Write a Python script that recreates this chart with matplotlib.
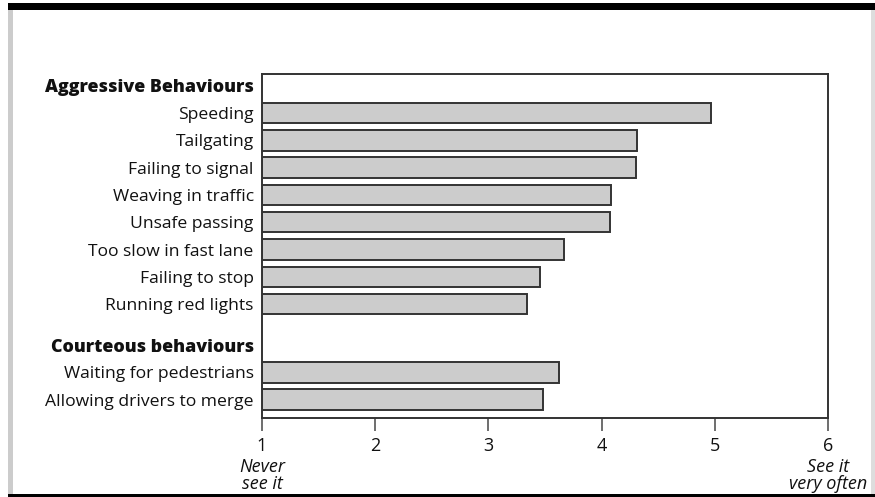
import matplotlib
matplotlib.use("Agg")
import matplotlib.pyplot as plt
from matplotlib.patches import Rectangle

plt.rcParams['font.family'] = ['Open Sans', 'DejaVu Sans']

aggressive_labels = ["Speeding", "Tailgating", "Failing to signal", "Weaving in traffic",
                     "Unsafe passing", "Too slow in fast lane", "Failing to stop", "Running red lights"]
aggressive_values = [4.97, 4.31, 4.30, 4.08, 4.07, 3.67, 3.46, 3.34]
courteous_labels = ["Waiting for pedestrians", "Allowing drivers to merge"]
courteous_values = [3.62, 3.48]
heading_aggr = "Aggressive Behaviours"
heading_court = "Courteous behaviours"
xticks = [1, 2, 3, 4, 5, 6]
xtick_notes = {1: "Never\nsee it", 6: "See it\nvery often"}

W, H = 875, 497
fig = plt.figure(figsize=(W / 100, H / 100), dpi=100)

# decorative frame
fig.patches.append(Rectangle((8 / W, 1 - 9.5 / H), 1 - 8 / W, 6.5 / H, transform=fig.transFigure,
                             facecolor='black', edgecolor='none'))
fig.patches.append(Rectangle((8 / W, 0), 4.5 / W, 1 - 9.5 / H, transform=fig.transFigure,
                             facecolor='#cccccc', edgecolor='none'))
fig.patches.append(Rectangle((871 / W, 0), 4 / W, 1 - 9.5 / H, transform=fig.transFigure,
                             facecolor='#dddddd', edgecolor='none'))
fig.patches.append(Rectangle((8 / W, 0), 1 - 8 / W, 3.5 / H, transform=fig.transFigure,
                             facecolor='black', edgecolor='none'))

left, right, top, bottom = 262, 828, 74, 418
ax = fig.add_axes([left / W, 1 - bottom / H, (right - left) / W, (bottom - top) / H])

ypos_aggr = list(range(len(aggressive_labels)))
ypos_court = [len(aggressive_labels) + 1.5 + i for i in range(len(courteous_labels))]
ypos_all = ypos_aggr + ypos_court
vals_all = aggressive_values + courteous_values
labels_all = aggressive_labels + courteous_labels

ax.barh(ypos_all, [v - 1 for v in vals_all], left=1, height=0.75,
        color='#cccccc', edgecolor='#333333', linewidth=1.4)

ax.set_xlim(1, 6)
ax.set_ylim(11.17, -1.43)
ax.set_yticks(ypos_all + [-1, len(aggressive_labels) + 0.5])
ax.set_yticklabels(labels_all + [heading_aggr, heading_court])
for t in ax.get_yticklabels():
    t.set_fontsize(12.6)
    t.set_color('#111111')
    if t.get_text() in (heading_aggr, heading_court):
        t.set_fontweight('heavy')
        t.set_fontsize(12.9)
ax.tick_params(axis='y', length=0, pad=6)
ax.set_xticks(xticks)
ax.set_xticklabels([str(x) for x in xticks], fontsize=13, color='#111111')
ax.tick_params(axis='x', length=9, width=1.2, color='#555555', pad=5, direction='out')

for s in ax.spines.values():
    s.set_linewidth(1.4)
    s.set_color('#333333')

for x, note in xtick_notes.items():
    ax.annotate(note, xy=(x, 0), xycoords=('data', 'axes fraction'),
                xytext=(0, -29), textcoords='offset points', ha='center', va='top',
                fontsize=13, style='italic', color='#111111', linespacing=0.88)

fig.savefig("out.png", dpi=100)
